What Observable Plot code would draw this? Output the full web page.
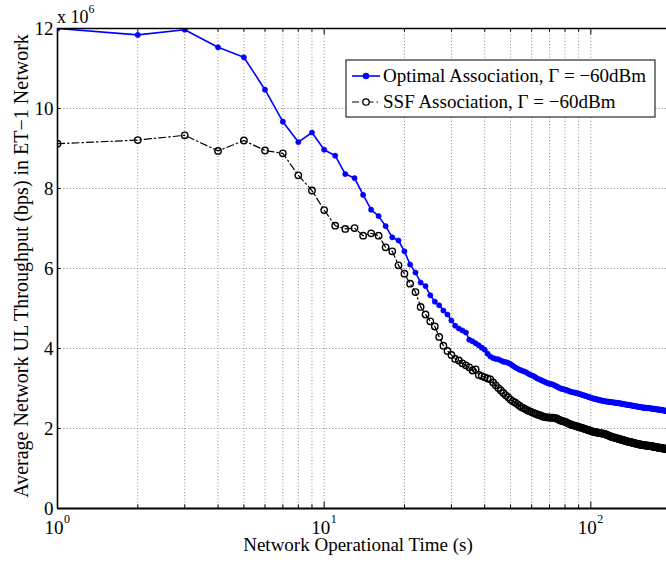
<!DOCTYPE html>
<html>
<head>
<meta charset="utf-8">
<script src="https://cdn.jsdelivr.net/npm/d3@7"></script>
<script src="https://cdn.jsdelivr.net/npm/@observablehq/plot@0.6"></script>
<style>
  html, body { margin: 0; padding: 0; background: #fff; }
  #chart { width: 666px; height: 566px; }
  svg text, svg tspan { font-family: "Liberation Serif", "Times New Roman", serif !important; }
</style>
</head>
<body>
<div id="chart"></div>
<script>
// Network operational time (s): one sample per second
const times = d3.range(1, 201);

// Optimal Association, Γ = −60dBm (×10^6 bps)
const optimal = [
  12.00, 11.84, 11.97, 11.53, 11.28, 10.47, 9.67, 9.16, 9.40, 8.97,
  8.82, 8.36, 8.26, 7.84, 7.47, 7.31, 7.06, 6.78, 6.70, 6.43,
  6.10, 5.90, 5.65, 5.56, 5.33, 5.17, 5.08, 4.95, 4.85, 4.70,
  4.57, 4.50, 4.45, 4.40, 4.22, 4.18, 4.13, 4.08, 4.02, 3.97,
  3.87, 3.80, 3.76, 3.74, 3.73, 3.70, 3.67, 3.66, 3.64, 3.61,
  3.57, 3.53, 3.50, 3.47, 3.45, 3.43, 3.41, 3.38, 3.35, 3.33,
  3.31, 3.28, 3.25, 3.23, 3.21, 3.19, 3.17, 3.15, 3.13, 3.12,
  3.11, 3.10, 3.08, 3.06, 3.04, 3.02, 3.00, 2.99, 2.98, 2.97,
  2.96, 2.95, 2.93, 2.92, 2.91, 2.90, 2.90, 2.89, 2.88, 2.87,
  2.86, 2.85, 2.84, 2.83, 2.82, 2.81, 2.80, 2.79, 2.78, 2.77,
  2.76, 2.75, 2.74, 2.74, 2.73, 2.72, 2.72, 2.71, 2.70, 2.70,
  2.69, 2.69, 2.68, 2.68, 2.67, 2.67, 2.67, 2.66, 2.66, 2.66,
  2.65, 2.65, 2.65, 2.64, 2.64, 2.64, 2.63, 2.63, 2.63, 2.62,
  2.62, 2.61, 2.61, 2.60, 2.60, 2.60, 2.59, 2.59, 2.59, 2.58,
  2.58, 2.58, 2.57, 2.57, 2.56, 2.56, 2.56, 2.55, 2.55, 2.55,
  2.54, 2.54, 2.54, 2.53, 2.53, 2.53, 2.52, 2.52, 2.52, 2.52,
  2.52, 2.51, 2.51, 2.51, 2.51, 2.51, 2.50, 2.50, 2.50, 2.50,
  2.49, 2.49, 2.49, 2.49, 2.48, 2.48, 2.48, 2.48, 2.47, 2.47,
  2.47, 2.47, 2.47, 2.46, 2.46, 2.46, 2.45, 2.45, 2.45, 2.44,
  2.44, 2.44, 2.43, 2.43, 2.43, 2.43, 2.42, 2.42, 2.42, 2.42
];

// SSF Association, Γ = −60dBm (×10^6 bps)
const ssf = [
  9.12, 9.21, 9.33, 8.94, 9.20, 8.95, 8.88, 8.33, 7.95, 7.46,
  7.07, 6.99, 7.01, 6.82, 6.88, 6.82, 6.53, 6.43, 6.08, 5.87,
  5.62, 5.41, 5.04, 4.85, 4.68, 4.55, 4.29, 4.07, 3.94, 3.84,
  3.74, 3.70, 3.63, 3.58, 3.53, 3.45, 3.48, 3.34, 3.31, 3.28,
  3.25, 3.23, 3.15, 3.08, 3.01, 2.95, 2.89, 2.83, 2.78, 2.72,
  2.68, 2.65, 2.61, 2.57, 2.53, 2.51, 2.48, 2.45, 2.43, 2.41,
  2.39, 2.37, 2.35, 2.34, 2.32, 2.30, 2.29, 2.28, 2.28, 2.27,
  2.27, 2.27, 2.26, 2.26, 2.24, 2.22, 2.20, 2.19, 2.18, 2.17,
  2.15, 2.13, 2.12, 2.10, 2.09, 2.08, 2.07, 2.06, 2.05, 2.04,
  2.03, 2.02, 2.01, 2.00, 1.99, 1.98, 1.97, 1.96, 1.95, 1.94,
  1.93, 1.92, 1.91, 1.91, 1.90, 1.90, 1.89, 1.89, 1.88, 1.88,
  1.87, 1.87, 1.86, 1.85, 1.84, 1.83, 1.82, 1.81, 1.80, 1.79,
  1.78, 1.78, 1.77, 1.76, 1.76, 1.75, 1.74, 1.74, 1.73, 1.72,
  1.72, 1.71, 1.70, 1.70, 1.69, 1.68, 1.68, 1.67, 1.67, 1.66,
  1.66, 1.65, 1.65, 1.64, 1.64, 1.63, 1.63, 1.62, 1.62, 1.61,
  1.61, 1.60, 1.60, 1.60, 1.59, 1.59, 1.59, 1.58, 1.58, 1.58,
  1.58, 1.57, 1.57, 1.57, 1.57, 1.56, 1.56, 1.56, 1.56, 1.55,
  1.55, 1.55, 1.54, 1.54, 1.54, 1.53, 1.53, 1.53, 1.52, 1.52,
  1.52, 1.52, 1.51, 1.51, 1.51, 1.50, 1.50, 1.50, 1.50, 1.49,
  1.49, 1.49, 1.48, 1.48, 1.48, 1.48, 1.47, 1.47, 1.47, 1.47
];

// Axis ticks
const xDecades = [1, 10, 100];
const xDecadeExp = ["0", "1", "2"];
const xMinor = [2, 3, 4, 5, 6, 7, 8, 9, 20, 30, 40, 50, 60, 70, 80, 90];
const yTicks = [0, 2, 4, 6, 8, 10, 12];

const seriesNames = ["Optimal Association, \u0393 = \u221260dBm", "SSF Association, \u0393 = \u221260dBm"];

const optData = times.map((t, i) => ({t, v: optimal[i]}));
const ssfData = times.map((t, i) => ({t, v: ssf[i]}));

const FONT = "'Liberation Serif', 'Times New Roman', serif";
const dotted = {stroke: "#8a8a8a", strokeDasharray: "1,2.2", strokeWidth: 1};

const chart = Plot.plot({
  width: 666,
  height: 566,
  marginLeft: 57,
  marginRight: 0,
  marginTop: 28,
  marginBottom: 58,
  style: {background: "#fff", fontFamily: FONT},
  x: {type: "log", domain: [1, 192.2], axis: null},
  y: {domain: [0, 12], axis: null},
  marks: [
    // grid
    Plot.ruleX([...xMinor, 10, 100], {...dotted}),
    Plot.ruleY(yTicks.filter(d => d > 0 && d < 12), {...dotted}),
    // inward tick marks
    Plot.ruleX(xMinor, {y1: 0, y2: 0.09, stroke: "#000", strokeWidth: 1}),
    Plot.ruleX(xMinor, {y1: 12, y2: 11.91, stroke: "#000", strokeWidth: 1}),
    Plot.ruleX(xDecades, {y1: 0, y2: 0.16, stroke: "#000", strokeWidth: 1}),
    Plot.ruleX(xDecades, {y1: 12, y2: 11.84, stroke: "#000", strokeWidth: 1}),
    Plot.ruleY(yTicks, {x1: 1, x2: 1.03, stroke: "#000", strokeWidth: 1}),
    // series
    Plot.line(optData, {x: "t", y: "v", stroke: "#0000ff", strokeWidth: 1.6, clip: true}),
    Plot.dot(optData, {x: "t", y: "v", r: 2.6, fill: "#0000ff", stroke: "#0000ff", strokeWidth: 0.6, clip: true}),
    Plot.line(ssfData, {x: "t", y: "v", stroke: "#000", strokeWidth: 1.2, strokeDasharray: "7,3,1.5,3", clip: true}),
    Plot.dot(ssfData, {x: "t", y: "v", r: 3.2, fill: "none", stroke: "#000", strokeWidth: 1.4, clip: true}),
    // frame lines
    Plot.ruleX([1], {stroke: "#000", strokeWidth: 1.6}),
    Plot.ruleY([0], {stroke: "#000", strokeWidth: 1.8}),
    Plot.ruleY([12], {stroke: "#000", strokeWidth: 1.3}),
    // y tick labels
    Plot.text(yTicks, {x: 1, y: d => d, text: d => String(d), textAnchor: "end", dx: -4, fontSize: 19, fill: "#000"}),
    // x tick labels 10^k
    Plot.text(xDecades, {x: d => d, y: 0, text: () => "10", textAnchor: "end", lineAnchor: "bottom", dx: 6, dy: 25, fontSize: 19, fill: "#000"}),
    Plot.text(xDecades, {x: d => d, y: 0, text: (d, i) => xDecadeExp[i], textAnchor: "start", lineAnchor: "bottom", dx: 6.5, dy: 14, fontSize: 12, fill: "#000"})
  ]
});

document.getElementById("chart").appendChild(chart);

const svg = d3.select(chart);

function addText(sel) {
  return sel.append("text").attr("font-family", FONT).style("font-family", FONT).attr("fill", "#000");
}

// exponent multiplier label
const mult = addText(svg).attr("x", 57).attr("y", 23).attr("text-anchor", "start").attr("font-size", 18);
mult.append("tspan").text("x 10");
mult.append("tspan").attr("dy", -10).attr("font-size", 12).text("6");

// axis titles
addText(svg).attr("x", 358).attr("y", 551).attr("text-anchor", "middle").attr("font-size", 19)
  .text("Network Operational Time (s)");
addText(svg).attr("transform", "translate(28,266) rotate(-90)").attr("text-anchor", "middle").attr("font-size", 20)
  .text("Average Network UL Throughput (bps) in ET\u22121 Network");

// legend
const lg = svg.append("g");
lg.append("rect").attr("x", 346).attr("y", 60).attr("width", 309).attr("height", 57)
  .attr("fill", "#fff").attr("stroke", "#000").attr("stroke-width", 1);
const rows = [
  {y: 76, color: "#0000ff", dash: null, filled: true, r: 2.6, sw: 1.6},
  {y: 102, color: "#000", dash: "7,3,1.5,3", filled: false, r: 3.2, sw: 1.2}
];
rows.forEach((row, i) => {
  lg.append("line").attr("x1", 352).attr("x2", 380).attr("y1", row.y).attr("y2", row.y)
    .attr("stroke", row.color).attr("stroke-width", row.sw).attr("stroke-dasharray", row.dash);
  lg.append("circle").attr("cx", 366).attr("cy", row.y).attr("r", row.r)
    .attr("fill", row.filled ? row.color : "#fff").attr("stroke", row.color).attr("stroke-width", 1.3);
  addText(lg).attr("x", 383).attr("y", row.y + 6).attr("text-anchor", "start").attr("font-size", 19)
    .text(seriesNames[i]);
});
</script>
</body>
</html>
